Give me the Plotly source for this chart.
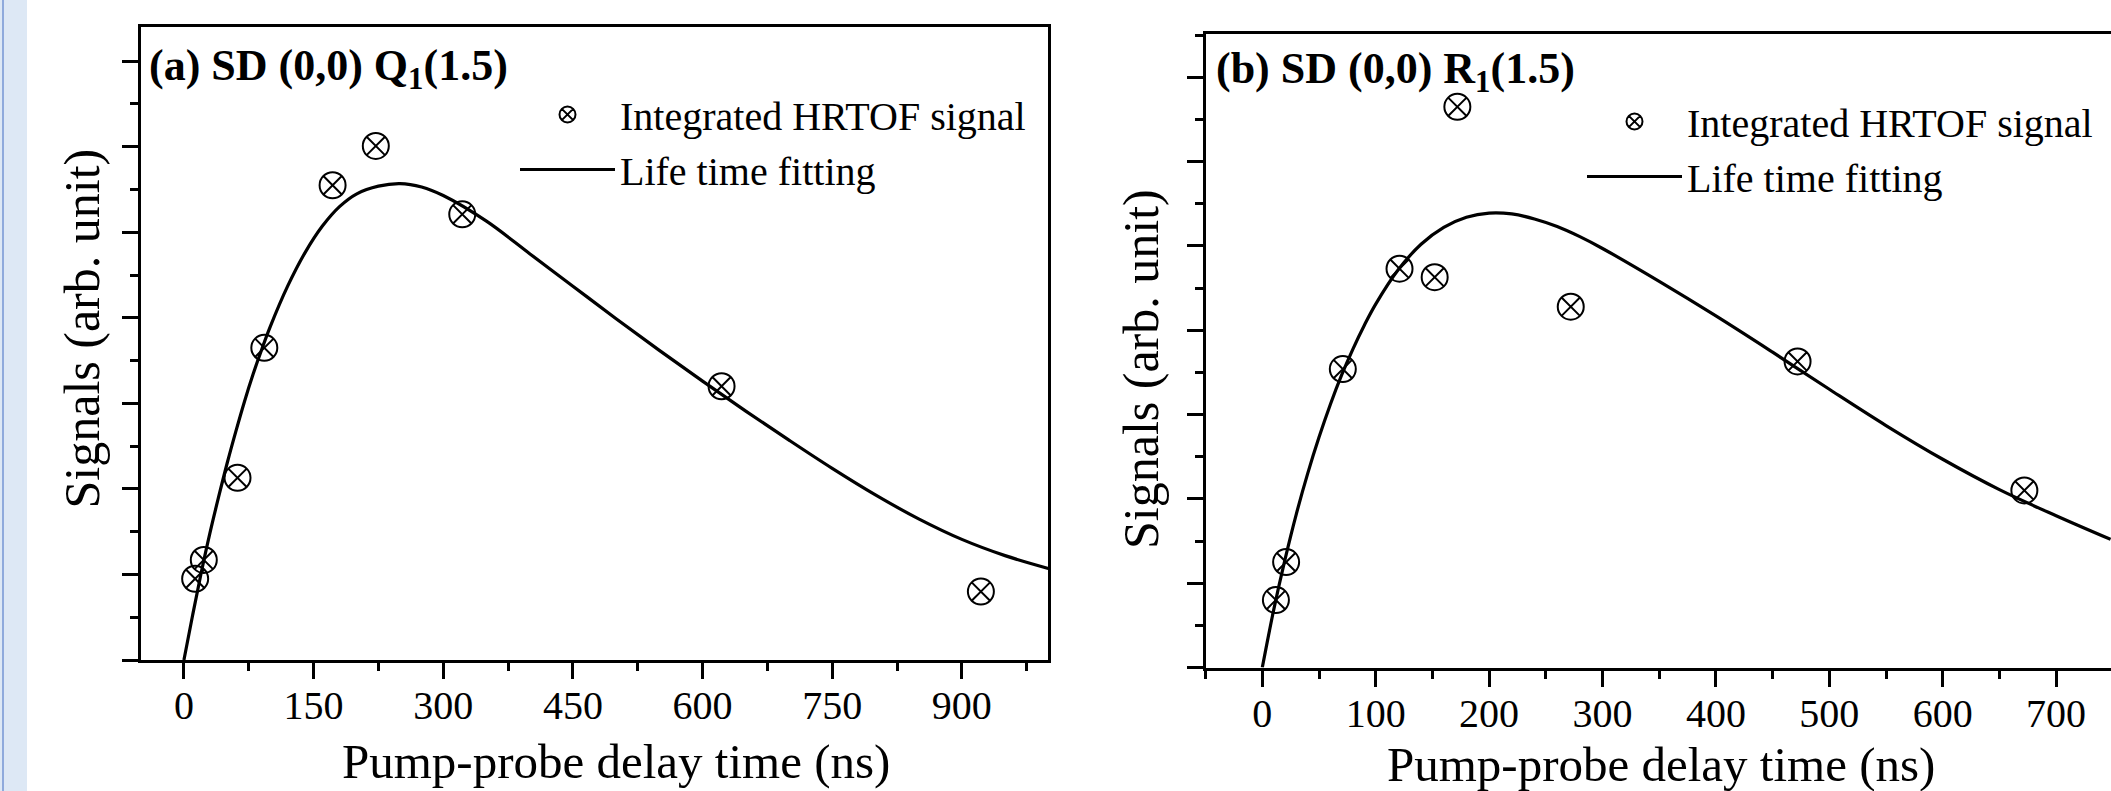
import plotly.graph_objects as go

W, H = 2111, 791

# ---------------- data ----------------
a_delay = [13, 23, 62, 93, 172, 222, 322, 622, 922]
a_signal = [0.95, 1.17, 2.13, 3.65, 5.55, 6.01, 5.21, 3.20, 0.80]
a_fit_delay = [0, 10, 20, 30, 40, 50, 60, 70, 80, 90, 100, 120, 140, 160, 180, 200,
               225, 250, 275, 300, 350, 400, 450, 500, 550, 600, 650, 700, 750,
               800, 850, 900, 950, 1000]
a_fit_signal = [0, 0.52, 1.02, 1.48, 1.90, 2.30, 2.67, 3.02, 3.34, 3.63, 3.90, 4.37,
                4.76, 5.07, 5.30, 5.45, 5.54, 5.57, 5.53, 5.43, 5.13, 4.75, 4.37,
                3.99, 3.62, 3.26, 2.91, 2.57, 2.24, 1.93, 1.65, 1.41, 1.22, 1.07]

b_delay = [12, 21, 71, 121, 152, 172, 272, 472, 672]
b_signal = [0.80, 1.25, 3.54, 4.73, 4.63, 6.65, 4.28, 3.63, 2.10]
b_fit_delay = [0, 10, 20, 30, 40, 50, 60, 70, 80, 90, 100, 120, 140, 160, 180, 200,
               220, 240, 260, 280, 300, 350, 400, 450, 500, 550, 600, 650, 700, 748]
b_fit_signal = [0, 0.68, 1.28, 1.82, 2.30, 2.73, 3.12, 3.47, 3.78, 4.06, 4.31, 4.72,
                5.02, 5.22, 5.34, 5.39, 5.38, 5.32, 5.23, 5.11, 4.97, 4.58, 4.17,
                3.74, 3.30, 2.87, 2.47, 2.11, 1.80, 1.52]

a_xticks = [0, 150, 300, 450, 600, 750, 900]
b_xticks = [0, 100, 200, 300, 400, 500, 600, 700]

title_a = "<b>(a) SD (0,0) Q<sub>1</sub>(1.5)</b>"
title_b = "<b>(b) SD (0,0) R<sub>1</sub>(1.5)</b>"
name_pts = "Integrated HRTOF signal"
name_fit = "Life time fitting"
x_title = "Pump-probe delay time (ns)"
y_title = "Signals (arb. unit)"

# ---------------- layout helpers ----------------
def px(x):
    return x / W

def py(y):
    return (H - y) / H

FONT = "Liberation Serif, Times New Roman, serif"

fig = go.Figure()

marker_style = dict(symbol="circle-x-open", size=26, color="black",
                    line=dict(color="black", width=2))
line_style = dict(color="black", width=3.2, shape="spline", smoothing=1.0)

fig.add_trace(go.Scatter(x=a_delay, y=a_signal, mode="markers", name=name_pts,
                         marker=marker_style, xaxis="x", yaxis="y", legend="legend"))
fig.add_trace(go.Scatter(x=a_fit_delay, y=a_fit_signal, mode="lines", name=name_fit,
                         line=line_style, xaxis="x", yaxis="y", legend="legend"))
fig.add_trace(go.Scatter(x=b_delay, y=b_signal, mode="markers", name=name_pts,
                         marker=marker_style, xaxis="x2", yaxis="y2", legend="legend2"))
fig.add_trace(go.Scatter(x=b_fit_delay, y=b_fit_signal, mode="lines", name=name_fit,
                         line=line_style, xaxis="x2", yaxis="y2", legend="legend2"))

common_axis = dict(showgrid=False, zeroline=False, showline=True, linecolor="black",
                   linewidth=3, ticks="outside", tickcolor="black", tickwidth=3,
                   ticklen=16, tickfont=dict(family=FONT, size=40, color="black"))

xa = dict(common_axis, range=[-50, 1000], domain=[px(140.7), px(1048.3)],
          tickmode="array", tickvals=a_xticks, ticktext=[str(v) for v in a_xticks],
          ticklabelstandoff=-8,
          minor=dict(dtick=75, tick0=0, ticks="outside", ticklen=8, tickwidth=3,
                     tickcolor="black", showgrid=False),
          mirror=True, anchor="y")
ya = dict(common_axis, range=[0, 7.4], domain=[py(660), py(27)], dtick=1, tick0=0,
          showticklabels=False,
          minor=dict(dtick=0.5, tick0=0, ticks="outside", ticklen=8, tickwidth=3,
                     tickcolor="black", showgrid=False),
          mirror=True, anchor="x")
xb = dict(common_axis, range=[-50, 748.4], domain=[px(1205.6), 1.0],
          tickmode="array", tickvals=b_xticks, ticktext=[str(v) for v in b_xticks],
          ticklabelstandoff=-8,
          minor=dict(dtick=50, tick0=0, ticks="outside", ticklen=8, tickwidth=3,
                     tickcolor="black", showgrid=False),
          mirror=True, anchor="y2")
yb = dict(common_axis, range=[0, 7.52], domain=[py(667.5), py(33.5)], dtick=1, tick0=0,
          showticklabels=False,
          minor=dict(dtick=0.5, tick0=0, ticks="outside", ticklen=8, tickwidth=3,
                     tickcolor="black", showgrid=False),
          mirror=False, anchor="x2")

legend_common = dict(font=dict(family=FONT, size=40, color="black"),
                     bgcolor="rgba(0,0,0,0)", borderwidth=0, itemwidth=95,
                     xanchor="left", yanchor="top", traceorder="normal",
                     tracegroupgap=0)

title_font = dict(family=FONT, size=44, color="black")
axis_title_font = dict(family=FONT, size=49, color="black")

fig.update_layout(
    width=W, height=H,
    margin=dict(l=0, r=0, t=0, b=0),
    paper_bgcolor="white", plot_bgcolor="white",
    xaxis=xa, yaxis=ya, xaxis2=xb, yaxis2=yb,
    legend=dict(legend_common, x=px(515), y=py(82)),
    legend2=dict(legend_common, x=px(1582), y=py(89)),
    shapes=[
        dict(type="rect", xref="paper", yref="paper", x0=0, x1=px(27), y0=0, y1=1,
             fillcolor="#DDE8F5", line=dict(width=0), layer="below"),
        dict(type="line", xref="paper", yref="paper", x0=px(3), x1=px(3), y0=0, y1=1,
             line=dict(color="#8FAADC", width=2)),
    ],
    annotations=[
        dict(text=title_a, xref="paper", yref="paper", x=px(147), y=py(39),
             xanchor="left", yanchor="top", showarrow=False, font=title_font),
        dict(text=title_b, xref="paper", yref="paper", x=px(1214), y=py(42),
             xanchor="left", yanchor="top", showarrow=False, font=title_font),
        dict(text=x_title, xref="paper", yref="paper", x=px(616), y=py(761.5),
             xanchor="center", yanchor="middle", showarrow=False, font=axis_title_font),
        dict(text=x_title, xref="paper", yref="paper", x=px(1661), y=py(764),
             xanchor="center", yanchor="middle", showarrow=False, font=axis_title_font),
        dict(text=y_title, xref="paper", yref="paper", x=px(81), y=py(328.5),
             xanchor="center", yanchor="middle", textangle=-90, showarrow=False,
             font=dict(family=FONT, size=50, color="black")),
        dict(text=y_title, xref="paper", yref="paper", x=px(1141), y=py(369),
             xanchor="center", yanchor="middle", textangle=-90, showarrow=False,
             font=dict(family=FONT, size=50, color="black")),
    ],
)

fig.write_html("out.html",
               config={"displayModeBar": False},
               post_script="document.body.style.margin='0';"
                           "document.body.style.overflow='hidden';")
